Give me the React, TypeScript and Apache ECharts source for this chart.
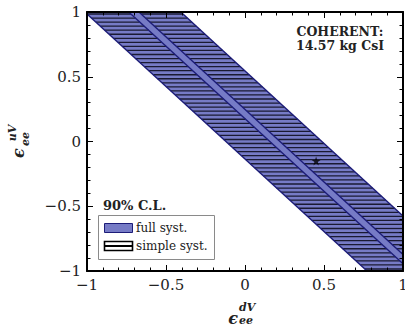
import React, { useEffect, useRef } from 'react';
import * as echarts from 'echarts';

// ---- data ----
const axisMin = -1;
const axisMax = 1;
const tickStep = 0.5;
const bandSlope = -1.12; // eps_uV = slope * eps_dV + intercept
const fullSystBands = [[-0.135, 0.545]]; // [lower intercept, upper intercept]
const simpleSystBands = [
  [-0.135, 0.176],
  [0.248, 0.545],
];
const bestFitPoint = [[0.45, -0.15]];
const hatchLineCount = 64;

const titleLines = ['COHERENT:', '14.57 kg CsI'];
const clLabel = '90% C.L.';
const legendLabels = ['full syst.', 'simple syst.'];

const BLUE = '#767bc6';
const NAVY = '#1c1c78';
const SERIF = '"DejaVu Serif", serif';

type P = [number, number];

function clipBox(poly: P[]): P[] {
  const planes = [
    { axis: 0, v: axisMin, inside: (p: P) => p[0] >= axisMin },
    { axis: 0, v: axisMax, inside: (p: P) => p[0] <= axisMax },
    { axis: 1, v: axisMin, inside: (p: P) => p[1] >= axisMin },
    { axis: 1, v: axisMax, inside: (p: P) => p[1] <= axisMax },
  ];
  let out = poly;
  for (const pl of planes) {
    const input = out;
    out = [];
    for (let i = 0; i < input.length; i++) {
      const cur = input[i];
      const prev = input[(i + input.length - 1) % input.length];
      const inter = (): P => {
        const t = (pl.v - prev[pl.axis]) / (cur[pl.axis] - prev[pl.axis]);
        return [prev[0] + t * (cur[0] - prev[0]), prev[1] + t * (cur[1] - prev[1])];
      };
      if (pl.inside(cur)) {
        if (!pl.inside(prev)) out.push(inter());
        out.push(cur);
      } else if (pl.inside(prev)) {
        out.push(inter());
      }
    }
  }
  return out;
}

function bandPolygon(cLow: number, cHigh: number): P[] {
  const xa = -5;
  const xb = 5;
  return clipBox([
    [xa, bandSlope * xa + cLow],
    [xb, bandSlope * xb + cLow],
    [xb, bandSlope * xb + cHigh],
    [xa, bandSlope * xa + cHigh],
  ]);
}

function edgeSegment(c: number): [P, P] | null {
  const xa = (axisMax - c) / bandSlope;
  const xb = (axisMin - c) / bandSlope;
  const x0 = Math.max(axisMin, Math.min(xa, xb));
  const x1 = Math.min(axisMax, Math.max(xa, xb));
  if (x0 >= x1) return null;
  return [
    [x0, bandSlope * x0 + c],
    [x1, bandSlope * x1 + c],
  ];
}

function edgeLine(api: any, c: number, color: string, width: number) {
  const seg = edgeSegment(c);
  if (!seg) return null;
  const a = api.coord(seg[0]);
  const b = api.coord(seg[1]);
  return {
    type: 'line',
    shape: { x1: a[0], y1: a[1], x2: b[0], y2: b[1] },
    style: { stroke: color, lineWidth: width },
  };
}

const fmt = (v: number) => (v < 0 ? '\u2212' + Math.abs(v) : String(v));

export default function App() {
  const ref = useRef<HTMLDivElement>(null);
  useEffect(() => {
    if (!ref.current) return;
    const chart = echarts.init(ref.current, undefined, { renderer: 'svg' });

    const axisBase = (labels: boolean) => ({
      type: 'value',
      min: axisMin,
      max: axisMax,
      interval: tickStep,
      z: 10,
      axisLine: { show: true, onZero: false, lineStyle: { color: '#000', width: 2 } },
      axisTick: { show: true, inside: true, length: 6, lineStyle: { color: '#000', width: 1 } },
      minorTick: { show: true, splitNumber: 5, length: 3.5, lineStyle: { color: '#000', width: 1 } },
      splitLine: { show: false },
      minorSplitLine: { show: false },
      axisLabel: {
        show: labels,
        fontFamily: SERIF,
        fontSize: 15,
        color: '#222',
        margin: 6,
        formatter: fmt,
        hideOverlap: false,
      },
    });

    const option: any = {
      animation: false,
      backgroundColor: '#fff',
      grid: {
        left: 87,
        right: 2,
        top: 12,
        bottom: 57,
        containLabel: false,
        outerBoundsMode: 'none',
      },
      xAxis: [
        { ...axisBase(true), position: 'bottom' },
        { ...axisBase(false), position: 'top' },
      ],
      yAxis: [
        { ...axisBase(true), position: 'left' },
        { ...axisBase(false), position: 'right' },
      ],
      series: [
        {
          name: 'full syst.',
          type: 'custom',
          coordinateSystem: 'cartesian2d',
          xAxisIndex: 0,
          yAxisIndex: 0,
          data: fullSystBands,
          z: 2,
          renderItem: (params: any, api: any) => {
            const cLow = api.value(0);
            const cHigh = api.value(1);
            const pts = bandPolygon(cLow, cHigh).map((p) => api.coord(p));
            return {
              type: 'group',
              children: [
                { type: 'polygon', shape: { points: pts }, style: { fill: BLUE, stroke: 'none' } },
              ],
            };
          },
        },
        {
          name: 'simple syst.',
          type: 'custom',
          coordinateSystem: 'cartesian2d',
          xAxisIndex: 0,
          yAxisIndex: 0,
          data: simpleSystBands,
          z: 3,
          renderItem: (params: any, api: any) => {
            const cLow = api.value(0);
            const cHigh = api.value(1);
            const children: any[] = [];
            const step = (axisMax - axisMin) / hatchLineCount;
            for (let k = 0; k < hatchLineCount; k++) {
              const y = axisMin + (k + 0.5) * step;
              const xa = (y - cLow) / bandSlope;
              const xb = (y - cHigh) / bandSlope;
              const x0 = Math.max(axisMin, Math.min(xa, xb));
              const x1 = Math.min(axisMax, Math.max(xa, xb));
              if (x0 >= x1) continue;
              const a = api.coord([x0, y]);
              const b = api.coord([x1, y]);
              children.push({
                type: 'line',
                shape: { x1: a[0], y1: a[1], x2: b[0], y2: b[1] },
                style: { stroke: '#1a1a32', lineWidth: 1.3 },
              });
            }
            const e1 = edgeLine(api, cLow, NAVY, 1.4);
            const e2 = edgeLine(api, cHigh, NAVY, 1.4);
            if (e1) children.push(e1);
            if (e2) children.push(e2);
            return { type: 'group', children };
          },
        },
        {
          name: 'best fit',
          type: 'scatter',
          xAxisIndex: 0,
          yAxisIndex: 0,
          data: bestFitPoint,
          z: 4,
          symbol:
            'path://M50,0 L61,35 L98,35 L68,57 L79,91 L50,70 L21,91 L32,57 L2,35 L39,35 Z',
          symbolSize: 9,
          itemStyle: { color: '#000' },
        },
      ],
      graphic: [
        {
          type: 'text',
          x: 340,
          y: 31,
          style: {
            text: titleLines[0],
            font: 'bold 12.5px ' + SERIF,
            fill: '#222',
            textAlign: 'center',
            textVerticalAlign: 'middle',
          },
        },
        {
          type: 'text',
          x: 340,
          y: 45,
          style: {
            text: titleLines[1],
            font: 'bold 12.5px ' + SERIF,
            fill: '#222',
            textAlign: 'center',
            textVerticalAlign: 'middle',
          },
        },
        {
          type: 'text',
          x: 103,
          y: 205,
          style: {
            text: clLabel,
            font: 'bold 13px ' + SERIF,
            fill: '#222',
            textAlign: 'left',
            textVerticalAlign: 'middle',
          },
        },
        {
          type: 'rect',
          shape: { x: 98.5, y: 215.5, width: 116, height: 44 },
          style: { fill: '#fff', stroke: '#8a8a8a', lineWidth: 1 },
        },
        {
          type: 'rect',
          shape: { x: 104.5, y: 223.5, width: 28, height: 9 },
          style: { fill: BLUE, stroke: NAVY, lineWidth: 1 },
        },
        {
          type: 'text',
          x: 136,
          y: 228,
          style: {
            text: legendLabels[0],
            font: '12px ' + SERIF,
            fill: '#222',
            textAlign: 'left',
            textVerticalAlign: 'middle',
          },
        },
        {
          type: 'rect',
          shape: { x: 104.5, y: 241.5, width: 28, height: 9 },
          style: { fill: '#fff', stroke: '#000', lineWidth: 1.6 },
        },
        {
          type: 'line',
          shape: { x1: 104.5, y1: 246, x2: 132.5, y2: 246 },
          style: { stroke: '#000', lineWidth: 2 },
        },
        {
          type: 'text',
          x: 136,
          y: 246,
          style: {
            text: legendLabels[1],
            font: '12px ' + SERIF,
            fill: '#222',
            textAlign: 'left',
            textVerticalAlign: 'middle',
          },
        },
        // x axis title
        {
          type: 'text',
          x: 233,
          y: 318,
          style: {
            text: '\u03f5',
            font: 'italic bold 16px ' + SERIF,
            fill: '#222',
            textAlign: 'center',
            textVerticalAlign: 'middle',
          },
        },
        {
          type: 'text',
          x: 239,
          y: 307,
          style: {
            text: 'dV',
            font: 'italic bold 11px ' + SERIF,
            fill: '#222',
            textAlign: 'left',
            textVerticalAlign: 'middle',
          },
        },
        {
          type: 'text',
          x: 239,
          y: 320,
          style: {
            text: 'ee',
            font: 'italic bold 11px ' + SERIF,
            fill: '#222',
            textAlign: 'left',
            textVerticalAlign: 'middle',
          },
        },
        // y axis title (rotated)
        {
          type: 'text',
          x: 18,
          y: 153,
          rotation: Math.PI / 2,
          style: {
            text: '\u03f5',
            font: 'italic bold 16px ' + SERIF,
            fill: '#222',
            textAlign: 'center',
            textVerticalAlign: 'middle',
          },
        },
        {
          type: 'text',
          x: 12,
          y: 133,
          rotation: Math.PI / 2,
          style: {
            text: 'uV',
            font: 'italic bold 11px ' + SERIF,
            fill: '#222',
            textAlign: 'center',
            textVerticalAlign: 'middle',
          },
        },
        {
          type: 'text',
          x: 25,
          y: 139,
          rotation: Math.PI / 2,
          style: {
            text: 'ee',
            font: 'italic bold 11px ' + SERIF,
            fill: '#222',
            textAlign: 'center',
            textVerticalAlign: 'middle',
          },
        },
      ],
    };
    chart.setOption(option);
    return () => chart.dispose();
  }, []);

  return (
    <div
      ref={ref}
      style={{ position: 'fixed', left: 0, top: 0, width: 405, height: 328, background: '#fff' }}
    />
  );
}
